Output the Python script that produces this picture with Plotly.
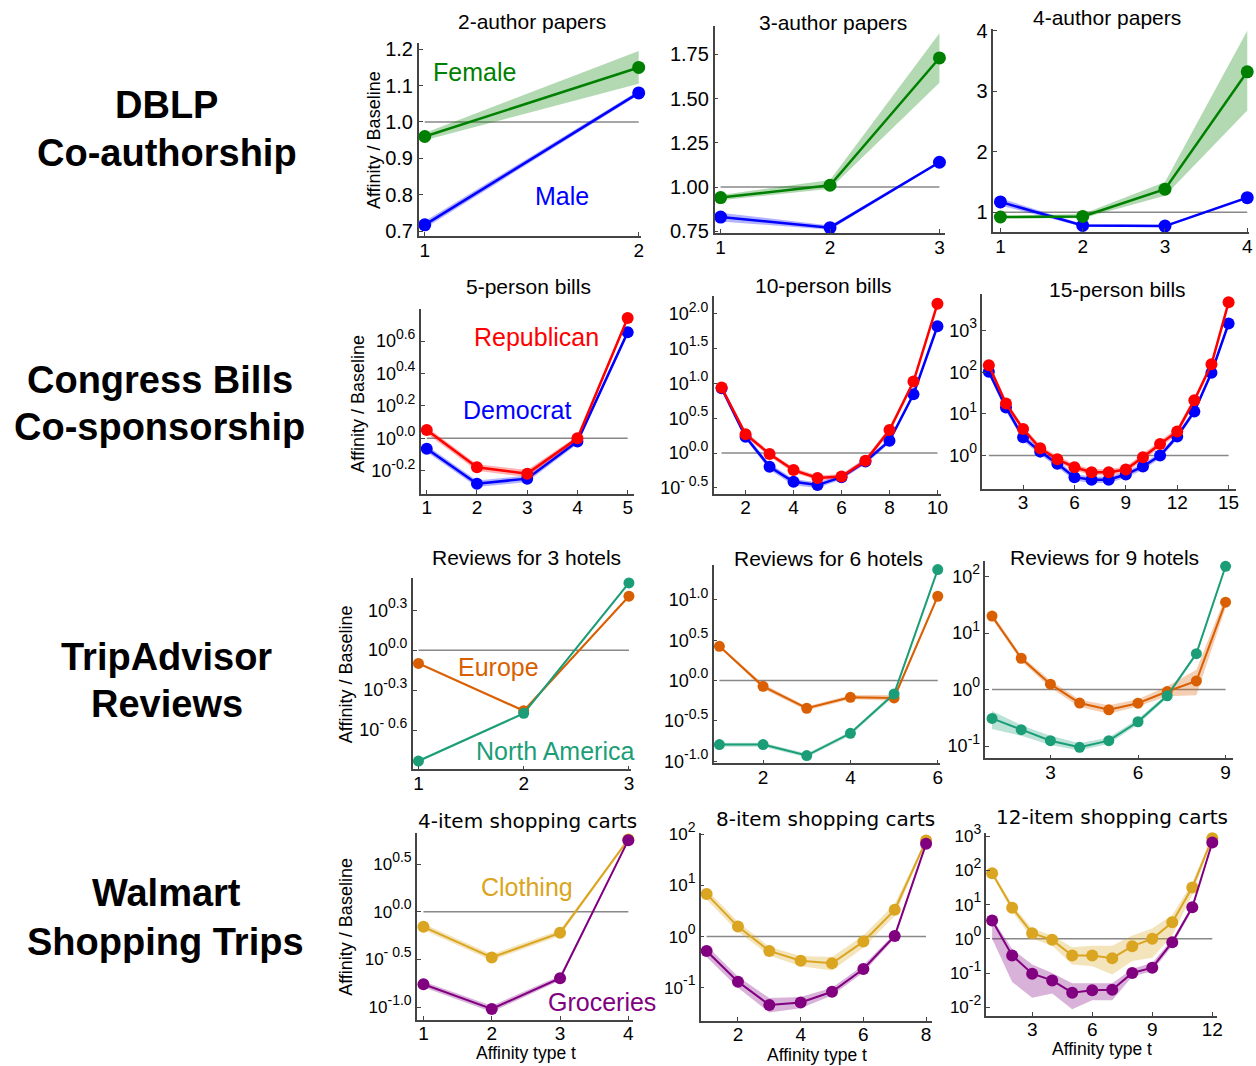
import plotly.graph_objects as go

W, H = 1256, 1066

# ============================ DATA ============================
# affinity type t for each panel
t_2 = [1, 2]
t_3 = [1, 2, 3]
t_4 = [1, 2, 3, 4]
t_5 = [1, 2, 3, 4, 5]
t_6 = [1, 2, 3, 4, 5, 6]
t_8 = [1, 2, 3, 4, 5, 6, 7, 8]
t_9 = [1, 2, 3, 4, 5, 6, 7, 8, 9]
t_10 = [1, 2, 3, 4, 5, 6, 7, 8, 9, 10]
t_12 = [1, 2, 3, 4, 5, 6, 7, 8, 9, 10, 11, 12]
t_15 = [1, 2, 3, 4, 5, 6, 7, 8, 9, 10, 11, 12, 13, 14, 15]

# --- DBLP co-authorship: affinity / baseline (linear scale) ---
dblp2_male = [0.717, 1.08]
dblp2_male_lo = [0.708, 1.074]
dblp2_male_hi = [0.727, 1.086]
dblp2_female = [0.96, 1.15]
dblp2_female_lo = [0.95, 1.105]
dblp2_female_hi = [0.97, 1.195]

dblp3_male = [0.83, 0.77, 1.14]
dblp3_male_lo = [0.805, 0.758, 1.133]
dblp3_male_hi = [0.855, 0.782, 1.147]
dblp3_female = [0.94, 1.01, 1.73]
dblp3_female_lo = [0.925, 0.99, 1.59]
dblp3_female_hi = [0.955, 1.04, 1.87]

dblp4_male = [1.17, 0.78, 0.77, 1.24]
dblp4_male_lo = [1.11, 0.76, 0.75, 1.22]
dblp4_male_hi = [1.23, 0.80, 0.79, 1.26]
dblp4_female = [0.92, 0.93, 1.38, 3.32]
dblp4_female_lo = [0.90, 0.90, 1.27, 2.68]
dblp4_female_hi = [0.94, 0.97, 1.50, 4.00]

# --- Congress bills: log10(affinity / baseline) ---
bills5_dem = [-0.064, -0.28, -0.249, -0.019, 0.654]
bills5_dem_lo = [-0.085, -0.30, -0.27, -0.035, 0.645]
bills5_dem_hi = [-0.045, -0.26, -0.23, -0.005, 0.665]
bills5_rep = [0.051, -0.179, -0.218, 0.0, 0.742]
bills5_rep_lo = [0.03, -0.20, -0.24, -0.015, 0.73]
bills5_rep_hi = [0.07, -0.16, -0.195, 0.015, 0.755]

bills10_dem = [0.93, 0.234, -0.196, -0.411, -0.459, -0.345, -0.12, 0.176, 0.845, 1.82]
bills10_dem_lo = [0.90, 0.20, -0.24, -0.46, -0.50, -0.38, -0.16, 0.14, 0.82, 1.80]
bills10_dem_hi = [0.96, 0.27, -0.15, -0.37, -0.42, -0.31, -0.08, 0.21, 0.87, 1.84]
bills10_rep = [0.94, 0.272, -0.014, -0.244, -0.358, -0.335, -0.11, 0.33, 1.026, 2.143]
bills10_rep_lo = [0.91, 0.24, -0.05, -0.28, -0.39, -0.37, -0.15, 0.29, 1.00, 2.12]
bills10_rep_hi = [0.97, 0.31, 0.02, -0.21, -0.32, -0.30, -0.07, 0.37, 1.05, 2.17]

bills15_dem = [2.01, 1.153, 0.437, 0.095, -0.198, -0.517, -0.58, -0.58, -0.453, -0.262, 0.0, 0.46, 1.057, 1.988, 3.167]
bills15_dem_lo = [1.93, 1.07, 0.35, 0.02, -0.28, -0.60, -0.66, -0.66, -0.53, -0.34, -0.07, 0.39, 0.99, 1.92, 3.11]
bills15_dem_hi = [2.09, 1.23, 0.52, 0.17, -0.12, -0.44, -0.50, -0.50, -0.38, -0.19, 0.07, 0.53, 1.12, 2.05, 3.22]
bills15_rep = [2.165, 1.248, 0.637, 0.174, -0.088, -0.279, -0.398, -0.398, -0.334, -0.04, 0.279, 0.58, 1.329, 2.188, 3.675]
bills15_rep_lo = [2.09, 1.17, 0.56, 0.10, -0.16, -0.35, -0.47, -0.47, -0.41, -0.12, 0.20, 0.50, 1.25, 2.12, 3.62]
bills15_rep_hi = [2.23, 1.32, 0.71, 0.25, -0.01, -0.21, -0.33, -0.33, -0.26, 0.04, 0.36, 0.66, 1.40, 2.26, 3.73]

# --- TripAdvisor reviews: log10(affinity / baseline) ---
hotels3_eur = [-0.10, -0.455, 0.405]
hotels3_eur_lo = [-0.11, -0.465, 0.395]
hotels3_eur_hi = [-0.09, -0.445, 0.415]
hotels3_na = [-0.833, -0.475, 0.505]
hotels3_na_lo = [-0.843, -0.485, 0.495]
hotels3_na_hi = [-0.823, -0.465, 0.515]

hotels6_eur = [0.425, -0.071, -0.343, -0.207, -0.215, 1.045]
hotels6_eur_lo = [0.41, -0.10, -0.37, -0.23, -0.25, 1.03]
hotels6_eur_hi = [0.44, -0.04, -0.32, -0.18, -0.18, 1.06]
hotels6_na = [-0.793, -0.793, -0.929, -0.653, -0.165, 1.375]
hotels6_na_lo = [-0.82, -0.82, -0.95, -0.68, -0.19, 1.36]
hotels6_na_hi = [-0.77, -0.77, -0.905, -0.63, -0.14, 1.39]

hotels9_eur = [1.30, 0.554, 0.095, -0.24, -0.358, -0.242, -0.035, 0.153, 1.547]
hotels9_eur_lo = [1.25, 0.50, 0.03, -0.31, -0.43, -0.30, -0.12, -0.10, 1.45]
hotels9_eur_hi = [1.35, 0.60, 0.16, -0.18, -0.28, -0.17, 0.06, 0.35, 1.65]
hotels9_na = [-0.511, -0.71, -0.905, -1.022, -0.905, -0.57, -0.111, 0.635, 2.182]
hotels9_na_lo = [-0.70, -0.82, -0.98, -1.08, -0.96, -0.62, -0.15, 0.60, 2.16]
hotels9_na_hi = [-0.38, -0.63, -0.82, -0.95, -0.85, -0.52, -0.07, 0.67, 2.20]

# --- Walmart shopping trips: log10(affinity / baseline) ---
carts4_cloth = [-0.157, -0.478, -0.22, 0.76]
carts4_cloth_lo = [-0.19, -0.51, -0.25, 0.745]
carts4_cloth_hi = [-0.125, -0.445, -0.19, 0.775]
carts4_groc = [-0.759, -1.018, -0.696, 0.752]
carts4_groc_lo = [-0.79, -1.05, -0.72, 0.74]
carts4_groc_hi = [-0.73, -0.985, -0.67, 0.765]

carts8_cloth = [0.83, 0.196, -0.28, -0.47, -0.52, -0.098, 0.523, 1.875]
carts8_cloth_lo = [0.72, 0.10, -0.37, -0.58, -0.66, -0.22, 0.40, 1.85]
carts8_cloth_hi = [0.92, 0.29, -0.20, -0.38, -0.40, 0.02, 0.64, 1.90]
carts8_groc = [-0.28, -0.88, -1.337, -1.285, -1.077, -0.632, 0.014, 1.812]
carts8_groc_lo = [-0.40, -1.00, -1.48, -1.40, -1.15, -0.70, -0.03, 1.79]
carts8_groc_hi = [-0.18, -0.78, -1.20, -1.18, -1.00, -0.56, 0.06, 1.83]

carts12_cloth = [1.92, 0.91, 0.163, -0.03, -0.487, -0.487, -0.565, -0.215, 0.0, 0.484, 1.504, 2.94]
carts12_cloth_lo = [1.85, 0.80, 0.0, -0.20, -0.75, -0.80, -1.04, -0.65, -0.55, 0.10, 1.30, 2.90]
carts12_cloth_hi = [2.00, 1.00, 0.30, 0.10, -0.25, -0.20, -0.20, 0.10, 0.30, 0.70, 1.65, 3.00]
carts12_groc = [0.534, -0.487, -1.02, -1.216, -1.574, -1.507, -1.487, -1.0, -0.845, -0.098, 0.924, 2.816]
carts12_groc_lo = [0.0, -1.26, -1.72, -1.60, -2.06, -1.80, -1.80, -1.10, -0.95, -0.20, 0.85, 2.78]
carts12_groc_hi = [0.60, -0.30, -0.75, -1.00, -1.30, -1.30, -1.30, -0.88, -0.70, -0.02, 1.00, 2.85]

# --- tick values / labels ---
SUP = '<span style="font-size:20px"><sup>%s</sup></span>'
dblp2_yticks = [0.7, 0.8, 0.9, 1.0, 1.1, 1.2]
dblp2_yticklabels = ["0.7", "0.8", "0.9", "1.0", "1.1", "1.2"]
dblp3_yticks = [0.75, 1.0, 1.25, 1.5, 1.75]
dblp3_yticklabels = ["0.75", "1.00", "1.25", "1.50", "1.75"]
dblp4_yticks = [1, 2, 3, 4]
dblp4_yticklabels = ["1", "2", "3", "4"]
bills5_ytick_exp = [-0.2, 0.0, 0.2, 0.4, 0.6]
bills5_ytick_sup = ["-0.2", "0.0", "0.2", "0.4", "0.6"]
bills10_ytick_exp = [-0.5, 0.0, 0.5, 1.0, 1.5, 2.0]
bills10_ytick_sup = ["- 0.5", "0.0", "0.5", "1.0", "1.5", "2.0"]
bills15_ytick_exp = [0, 1, 2, 3]
bills15_ytick_sup = ["0", "1", "2", "3"]
hotels3_ytick_exp = [-0.6, -0.3, 0.0, 0.3]
hotels3_ytick_sup = ["- 0.6", "-0.3", "0.0", "0.3"]
hotels6_ytick_exp = [-1.0, -0.5, 0.0, 0.5, 1.0]
hotels6_ytick_sup = ["-1.0", "-0.5", "0.0", "0.5", "1.0"]
hotels9_ytick_exp = [-1, 0, 1, 2]
hotels9_ytick_sup = ["-1", "0", "1", "2"]
carts4_ytick_exp = [-1.0, -0.5, 0.0, 0.5]
carts4_ytick_sup = ["-1.0", "- 0.5", "0.0", "0.5"]
carts8_ytick_exp = [-1, 0, 1, 2]
carts8_ytick_sup = ["-1", "0", "1", "2"]
carts12_ytick_exp = [-2, -1, 0, 1, 2, 3]
carts12_ytick_sup = ["-2", "-1", "0", "1", "2", "3"]

x_ticks_2 = [1, 2]
x_ticks_3 = [1, 2, 3]
x_ticks_4 = [1, 2, 3, 4]
x_ticks_5 = [1, 2, 3, 4, 5]
x_ticks_6 = [2, 4, 6]
x_ticks_8 = [2, 4, 6, 8]
x_ticks_9 = [3, 6, 9]
x_ticks_10 = [2, 4, 6, 8, 10]
x_ticks_12 = [3, 6, 9, 12]
x_ticks_15 = [3, 6, 9, 12, 15]

panel_titles = ["2-author papers", "3-author papers", "4-author papers",
                "5-person bills", "10-person bills", "15-person bills",
                "Reviews for 3 hotels", "Reviews for 6 hotels", "Reviews for 9 hotels",
                "4-item shopping carts", "8-item shopping carts", "12-item shopping carts"]
row_labels = [("DBLP", "Co-authorship"), ("Congress Bills", "Co-sponsorship"),
              ("TripAdvisor", "Reviews"), ("Walmart", "Shopping Trips")]

# ============================ STYLE ============================
GREEN, BLUE, RED = "#008000", "#0000ff", "#ff0000"
ORANGE, TEAL = "#d95f02", "#1b9e77"
GOLD, PURPLE = "#daa520", "#800080"
FONT = "Liberation Sans, Arial, Helvetica, sans-serif"

# compensation for the page capture (target pixel -> figure pixel)
SX, CX = 0.995, -1.0
SY, CY = 0.98, 12.5


def fx(x):
    return (x - CX) / SX


def fy(y):
    return (y - CY) / SY


def rgba(hexc, a):
    h = hexc.lstrip("#")
    return "rgba(%d,%d,%d,%.2f)" % (int(h[0:2], 16), int(h[2:4], 16), int(h[4:6], 16), a)


def pw(v):
    return [10 ** a for a in v]


def ident(v):
    return list(v)


def sup_labels(labels):
    return ["10" + SUP % s for s in labels]


# panel geometry in target pixels (left, right, top, bottom) and axis ranges
panels = [
    dict(box=(418, 640, 42, 235), xr=[0.972, 2.009], yr=[0.686, 1.216], log=False, t=t_2,
         yt=dblp2_yticks, ytt=dblp2_yticklabels, xt=x_ticks_2, tf=20, ms=13, lw=2.5,
         series=[(dblp2_male, dblp2_male_lo, dblp2_male_hi, BLUE),
                 (dblp2_female, dblp2_female_lo, dblp2_female_hi, GREEN)]),
    dict(box=(714, 945, 25, 232), xr=[0.945, 3.055], yr=[0.739, 1.908], log=False, t=t_3,
         yt=dblp3_yticks, ytt=dblp3_yticklabels, xt=x_ticks_3, tf=20, ms=13, lw=2.5,
         series=[(dblp3_male, dblp3_male_lo, dblp3_male_hi, BLUE),
                 (dblp3_female, dblp3_female_lo, dblp3_female_hi, GREEN)]),
    dict(box=(993, 1252, 28, 231), xr=[0.915, 4.061], yr=[0.67, 4.02], log=False, t=t_4,
         yt=dblp4_yticks, ytt=dblp4_yticklabels, xt=x_ticks_4, tf=20, ms=13, lw=2.5,
         series=[(dblp4_male, dblp4_male_lo, dblp4_male_hi, BLUE),
                 (dblp4_female, dblp4_female_lo, dblp4_female_hi, GREEN)]),
    dict(box=(420, 633, 308, 493), xr=[0.881, 5.119], yr=[-0.342, 0.798], log=True, t=t_5,
         yt=bills5_ytick_exp, ytt=sup_labels(bills5_ytick_sup), xt=x_ticks_5, tf=18, ms=12, lw=2.5,
         series=[(bills5_dem, bills5_dem_lo, bills5_dem_hi, BLUE),
                 (bills5_rep, bills5_rep_lo, bills5_rep_hi, RED)]),
    dict(box=(713, 941, 295, 493), xr=[0.667, 10.167], yr=[-0.583, 2.254], log=True, t=t_10,
         yt=bills10_ytick_exp, ytt=sup_labels(bills10_ytick_sup), xt=x_ticks_10, tf=18, ms=12, lw=2.5,
         series=[(bills10_dem, bills10_dem_lo, bills10_dem_hi, BLUE),
                 (bills10_rep, bills10_rep_lo, bills10_rep_hi, RED)]),
    dict(box=(982, 1236, 293, 488), xr=[0.626, 15.45], yr=[-0.795, 3.874], log=True, t=t_15,
         yt=bills15_ytick_exp, ytt=sup_labels(bills15_ytick_sup), xt=x_ticks_15, tf=18, ms=12, lw=2.5,
         series=[(bills15_dem, bills15_dem_lo, bills15_dem_hi, BLUE),
                 (bills15_rep, bills15_rep_lo, bills15_rep_hi, RED)]),
    dict(box=(412, 630, 577, 769), xr=[0.946, 3.016], yr=[-0.895, 0.545], log=True, t=t_3,
         yt=hotels3_ytick_exp, ytt=sup_labels(hotels3_ytick_sup), xt=x_ticks_3, tf=18, ms=11, lw=2,
         series=[(hotels3_eur, hotels3_eur_lo, hotels3_eur_hi, ORANGE),
                 (hotels3_na, hotels3_na_lo, hotels3_na_hi, TEAL)]),
    dict(box=(713, 940, 564, 763), xr=[0.867, 6.062], yr=[-1.025, 1.437], log=True, t=t_6,
         yt=hotels6_ytick_exp, ytt=sup_labels(hotels6_ytick_sup), xt=x_ticks_6, tf=18, ms=11, lw=2,
         series=[(hotels6_eur, hotels6_eur_lo, hotels6_eur_hi, ORANGE),
                 (hotels6_na, hotels6_na_lo, hotels6_na_hi, TEAL)]),
    dict(box=(985, 1233, 560, 758), xr=[0.774, 9.264], yr=[-1.217, 2.282], log=True, t=t_9,
         yt=hotels9_ytick_exp, ytt=sup_labels(hotels9_ytick_sup), xt=x_ticks_9, tf=18, ms=11, lw=2,
         series=[(hotels9_eur, hotels9_eur_lo, hotels9_eur_hi, ORANGE),
                 (hotels9_na, hotels9_na_lo, hotels9_na_hi, TEAL)]),
    dict(box=(416, 632, 833, 1020), xr=[0.902, 4.063], yr=[-1.133, 0.825], log=True, t=t_4,
         yt=carts4_ytick_exp, ytt=sup_labels(carts4_ytick_sup), xt=x_ticks_4, tf=17, ms=12, lw=2,
         series=[(carts4_cloth, carts4_cloth_lo, carts4_cloth_hi, GOLD),
                 (carts4_groc, carts4_groc_lo, carts4_groc_hi, PURPLE)]),
    dict(box=(700, 932, 833, 1021), xr=[0.808, 8.204], yr=[-1.646, 2.02], log=True, t=t_8,
         yt=carts8_ytick_exp, ytt=sup_labels(carts8_ytick_sup), xt=x_ticks_8, tf=17, ms=12, lw=2,
         series=[(carts8_cloth, carts8_cloth_lo, carts8_cloth_hi, GOLD),
                 (carts8_groc, carts8_groc_lo, carts8_groc_hi, PURPLE)]),
    dict(box=(986, 1217, 833, 1016), xr=[0.715, 12.25], yr=[-2.254, 3.09], log=True, t=t_12,
         yt=carts12_ytick_exp, ytt=sup_labels(carts12_ytick_sup), xt=x_ticks_12, tf=17, ms=12, lw=2,
         series=[(carts12_cloth, carts12_cloth_lo, carts12_cloth_hi, GOLD),
                 (carts12_groc, carts12_groc_lo, carts12_groc_hi, PURPLE)]),
]

title_pos = [(531, 20), (832, 21), (1107, 16),
             (528, 285), (823, 284), (1117, 288),
             (526, 557), (828, 558), (1104, 557),
             (527, 821), (825, 819), (1112, 817)]

fig = go.Figure()
layout_axes = {}

for i, p in enumerate(panels):
    k = i + 1
    xa, ya = "x%d" % k, "y%d" % k
    conv = pw if p["log"] else ident
    t = p["t"]
    # baseline at affinity = baseline
    fig.add_trace(go.Scatter(x=[t[0], t[-1]], y=[1, 1], mode="lines",
                             line=dict(color="#888888", width=1.5),
                             xaxis=xa, yaxis=ya, showlegend=False, hoverinfo="skip"))
    # confidence bands
    for (y, lo, hi, col) in p["series"]:
        fig.add_trace(go.Scatter(x=t, y=conv(lo), mode="lines", line=dict(width=0),
                                 xaxis=xa, yaxis=ya, showlegend=False, hoverinfo="skip",
                                 cliponaxis=False))
        fig.add_trace(go.Scatter(x=t, y=conv(hi), mode="lines", line=dict(width=0),
                                 fill="tonexty", fillcolor=rgba(col, 0.3),
                                 xaxis=xa, yaxis=ya, showlegend=False, hoverinfo="skip",
                                 cliponaxis=False))
    # lines + markers
    for (y, lo, hi, col) in p["series"]:
        fig.add_trace(go.Scatter(x=t, y=conv(y), mode="lines+markers",
                                 line=dict(color=col, width=p["lw"]),
                                 marker=dict(color=col, size=p["ms"]),
                                 xaxis=xa, yaxis=ya, showlegend=False, cliponaxis=False))

    l, r, tp, b = p["box"]
    L, R, T, B = fx(l), fx(r), fy(tp), fy(b)
    xr = list(p["xr"])
    if R > W:  # clamp to figure, keeping the data scale
        pxu = (R - L) / (xr[1] - xr[0])
        xr[1] = xr[0] + (W - L) / pxu
        R = W
    ytv = pw(p["yt"]) if p["log"] else p["yt"]
    layout_axes["xaxis%d" % k] = dict(
        domain=[L / W, R / W], anchor=ya, range=xr, tickvals=p["xt"],
        ticktext=[str(v) for v in p["xt"]],
        showline=True, linecolor="#444444", linewidth=1.5, showgrid=False, zeroline=False,
        ticks="inside", ticklen=4, tickcolor="#444444", ticklabelstandoff=-4,
        tickfont=dict(size=19, color="black", family=FONT))
    layout_axes["yaxis%d" % k] = dict(
        domain=[1 - B / H, 1 - T / H], anchor=xa, range=p["yr"],
        type="log" if p["log"] else "linear",
        tickvals=ytv, ticktext=p["ytt"],
        showline=True, linecolor="#444444", linewidth=1.5, showgrid=False, zeroline=False,
        ticks="inside", ticklen=4, tickcolor="#444444",
        tickfont=dict(size=p["tf"], color="black", family=FONT))

annotations = []


def ann(text, x, y, size, color="black", family=FONT, angle=0):
    annotations.append(dict(text=text, x=fx(x) / W, y=1 - fy(y) / H, xref="paper", yref="paper",
                            showarrow=False, xanchor="center", yanchor="middle",
                            textangle=angle, font=dict(size=size, color=color, family=family)))


# panel titles
for i, (ttl, (x, y)) in enumerate(zip(panel_titles, title_pos)):
    if i >= 9:
        ann(ttl, x, y, 20, family="DejaVu Sans, Verdana, sans-serif")
    else:
        ann(ttl, x, y, 21)

# row labels
row_label_pos = [((166, 104), (166, 152)), ((159, 379), (159, 426)),
                 ((166, 657), (166, 704)), ((166, 893), (165, 942))]
for (a, b_), ((x1, y1), (x2, y2)) in zip(row_labels, row_label_pos):
    ann("<b>%s</b>" % a, x1, y1, 38)
    ann("<b>%s</b>" % b_, x2, y2, 38)

# y-axis titles
for (x, y) in [(374, 139), (357, 403), (346, 674), (345, 927)]:
    ann("Affinity / Baseline", x, y, 18, angle=-90)

# x-axis titles (bottom row)
for (x, y) in [(525, 1053), (816, 1055), (1102, 1049)]:
    ann("Affinity type t", x, y, 17.5)

# series labels
ann("Female", 474, 71, 25, GREEN)
ann("Male", 561, 195, 25, BLUE)
ann("Republican", 536, 336, 25, RED)
ann("Democrat", 516, 409, 25, BLUE)
ann("Europe", 498, 667, 25, ORANGE)
ann("North America", 554, 751, 25, TEAL)
ann("Clothing", 526, 887, 25, GOLD)
ann("Groceries", 601, 1002, 25, PURPLE)

fig.update_layout(width=W, height=H, autosize=False,
                  margin=dict(l=0, r=0, t=0, b=0),
                  paper_bgcolor="white", plot_bgcolor="white",
                  font=dict(family=FONT, color="black"),
                  showlegend=False, annotations=annotations, **layout_axes)

fig.write_html("out.html")
